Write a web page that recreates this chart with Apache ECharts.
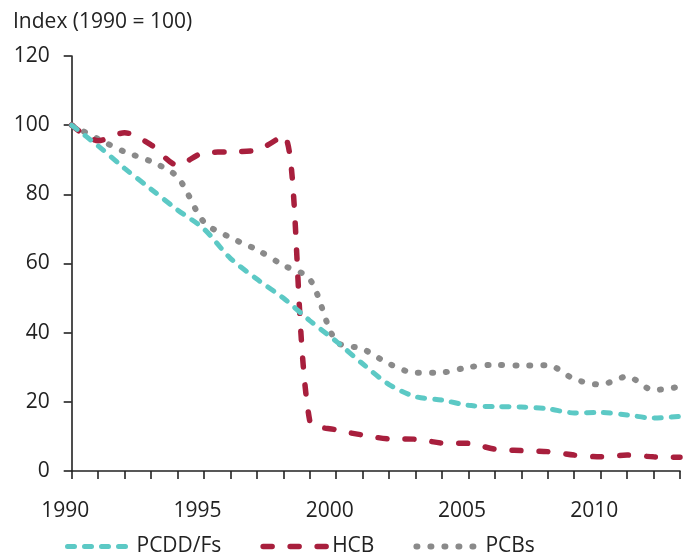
<!DOCTYPE html>
<html>
<head>
<meta charset="utf-8">
<script src="https://cdn.jsdelivr.net/npm/echarts@6/dist/echarts.min.js"></script>
<style>html,body{margin:0;padding:0;background:#fff}#c{width:683px;height:556px}</style>
</head>
<body>
<div id="c"></div>
<script>
var years = [1990,1991,1992,1993,1994,1995,1996,1997,1998,1999,2000,2001,2002,2003,2004,2005,2006,2007,2008,2009,2010,2011,2012,2013];
var pcdd = [100,94,87.5,81.5,75.5,70,61.5,55.5,50,43.5,37.5,31,25,21.5,20.5,19,18.6,18.5,18,16.8,16.9,16.2,15.3,15.8];
var hcb  = [100,95.5,97.8,94.3,88.5,92,92.3,92.8,97,14.5,11.9,10.4,9.3,9.2,8.1,8.0,6.3,5.9,5.6,4.6,4.1,4.6,4.1,4.0];
var pcbs = [100,96,92.3,89.5,85,72,67.5,64,59.5,55.5,37.5,35.3,31,28.4,28.5,30,30.7,30.5,30.6,26.6,25.0,27.3,23.4,24.4];
var xTickLabels = [1990,1995,2000,2005,2010];
var yTicks = {min:0, max:120, interval:20};
var names = ['PCDD/Fs','HCB','PCBs'];

function pairs(arr){ return years.map(function(y,i){ return [y, arr[i]]; }); }
var font = 'Open Sans';
var txt = '#222';
var fs = 21;
var chart = echarts.init(document.getElementById('c'), null, {renderer:'canvas'});
chart.setOption({
  animation:false,
  title:{text:'Index (1990 = 100)', left:8, top:7, textStyle:{fontFamily:font, fontSize:fs, fontWeight:'normal', color:txt}},
  grid:{left:71.7, right:2, top:56, bottom:85},
  legend:{
    left:60, top:531, itemWidth:64, itemHeight:22, itemGap:39,
    itemStyle:{color:'rgba(0,0,0,0)', borderColor:'rgba(0,0,0,0)', borderWidth:0},
    lineStyle:{width:'inherit'},
    textStyle:{fontFamily:font, fontSize:fs, color:txt},
    data:names
  },
  xAxis:{
    type:'value', min:1990, max:2013, interval:1,
    axisLine:{lineStyle:{color:txt, width:1.6}},
    axisTick:{length:8, lineStyle:{color:txt, width:1.6}},
    splitLine:{show:false},
    axisLabel:{fontFamily:font, fontSize:fs, color:txt, margin:30,
      formatter:function(v){ return xTickLabels.indexOf(v) >= 0 ? '{a|' + v + '}' : ''; },
      rich:{a:{fontFamily:font, fontSize:fs, color:txt, width:61, align:'left'}}}
  },
  yAxis:{
    type:'value', min:yTicks.min, max:yTicks.max, interval:yTicks.interval,
    axisLine:{show:true, lineStyle:{color:txt, width:1.6}},
    axisTick:{show:true, length:8, lineStyle:{color:txt, width:1.6}},
    splitLine:{show:false},
    axisLabel:{fontFamily:font, fontSize:fs, color:txt, margin:22}
  },
  series:[
    {name:names[0], type:'line', data:pairs(pcdd), smooth:0.3, symbol:'none',
     itemStyle:{color:'#5cc9c5'},
     lineStyle:{color:'#5cc9c5', width:5, type:[7,10], cap:'round'}, z:3},
    {name:names[1], type:'line', data:pairs(hcb), smooth:0.3, symbol:'none',
     itemStyle:{color:'#a81f3d'},
     lineStyle:{color:'#a81f3d', width:5.5, type:[9,18], cap:'round'}, z:2},
    {name:names[2], type:'line', data:pairs(pcbs), smooth:0.3, symbol:'none',
     itemStyle:{color:'#8a8a8a'},
     lineStyle:{color:'#8a8a8a', width:6, type:[1,13], cap:'round'}, z:1}
  ]
});
</script>
</body>
</html>
